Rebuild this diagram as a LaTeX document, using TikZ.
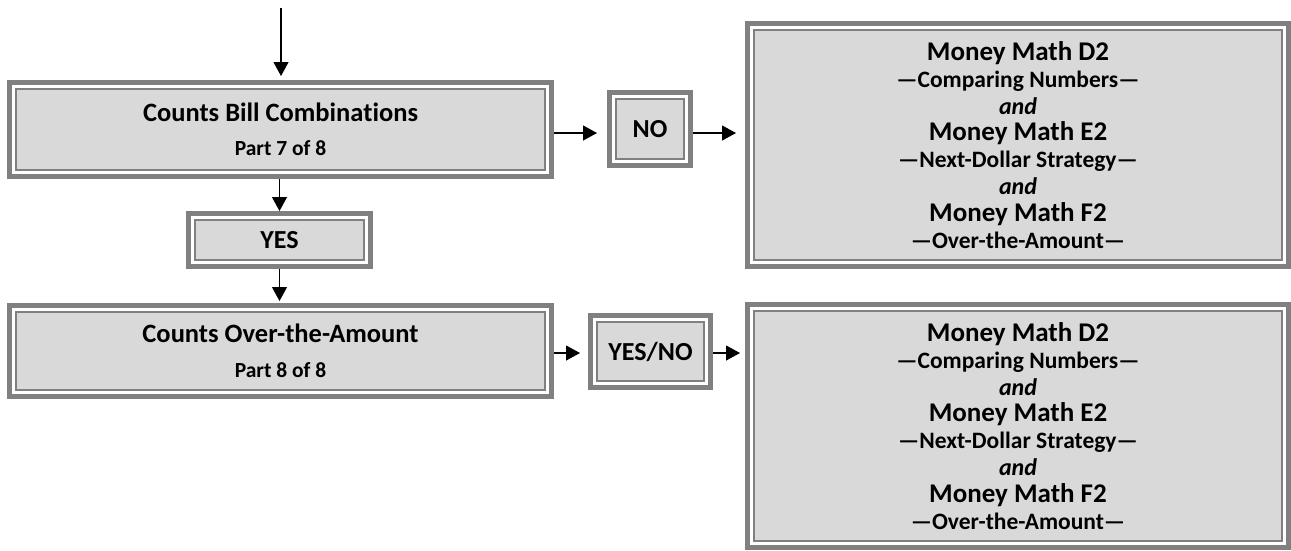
\documentclass[tikz,border=0pt]{standalone}
\usepackage{fontspec}
\setmainfont{Carlito}[Ligatures={TeX,NoCommon}]
\usepackage{xcolor}
\usepackage{tikz}
\usetikzlibrary{arrows.meta}
\definecolor{edgegray}{RGB}{128,128,128}
\definecolor{boxgray}{RGB}{217,217,217}
\newcommand{\bigline}[1]{{\fontsize{27}{26.9}\selectfont #1}}
\newcommand{\subline}[1]{{\fontsize{23.5}{26.9}\selectfont #1}}
\newcommand{\andline}{{\fontsize{24}{26.9}\selectfont\textit{and}}}
\tikzset{
  flowbox/.style={draw=edgegray, line width=5.4pt, fill=boxgray, inner sep=0pt, align=center,
    path picture={
      \draw[white, line width=2.6pt] ([shift={(4pt,-4pt)}]path picture bounding box.north west) rectangle ([shift={(-4pt,4pt)}]path picture bounding box.south east);
      \draw[edgegray, line width=1.8pt] ([shift={(6.2pt,-6.2pt)}]path picture bounding box.north west) rectangle ([shift={(-6.2pt,6.2pt)}]path picture bounding box.south east);
    }},
  twoline/.style={font=\bfseries\fontsize{26.5}{34.5}\selectfont},
  oneline/.style={font=\bfseries\fontsize{26}{27}\selectfont},
  manyline/.style={font=\bfseries\fontsize{27}{26.9}\selectfont},
  flowarrow/.style={line width=1.2pt, -{Triangle[width=15pt,length=14pt]}},
}

\begin{document}
\begin{tikzpicture}[x=1pt, y=-1pt]
\useasboundingbox (0,0) rectangle (1291,550);
\node[flowbox, twoline, minimum width=541.6pt, minimum height=93.6pt] (bills) at (280.5,129.5)
  {Counts Bill Combinations\\{\fontsize{21.5}{34.5}\selectfont Part 7 of 8}};
\node[flowbox, oneline, minimum width=181.6pt, minimum height=52.6pt] (yes) at (279.5,240) {YES};
\node[flowbox, twoline, minimum width=541.6pt, minimum height=90.6pt] (over) at (280.5,351)
  {Counts Over-the-Amount\\{\fontsize{21.5}{34.5}\selectfont Part 8 of 8}};
\node[flowbox, oneline, minimum width=80.6pt, minimum height=72.6pt] (no) at (650,129) {NO};
\node[flowbox, oneline, minimum width=119.6pt, minimum height=71.6pt] (yesno) at (650.5,351.5) {YES/NO};
\node[flowbox, manyline, minimum width=540.6pt, minimum height=242.6pt] (skillsA) at (1018,145)
  {\bigline{Money Math D2}\\\subline{—Comparing Numbers—}\\\andline\\\bigline{Money Math E2}\\\subline{—Next-Dollar Strategy—}\\\andline\\\bigline{Money Math F2}\\\subline{—Over-the-Amount—}};
\node[flowbox, manyline, minimum width=540.6pt, minimum height=242.6pt] (skillsB) at (1018,426)
  {\bigline{Money Math D2}\\\subline{—Comparing Numbers—}\\\andline\\\bigline{Money Math E2}\\\subline{—Next-Dollar Strategy—}\\\andline\\\bigline{Money Math F2}\\\subline{—Over-the-Amount—}};
\coordinate (entry) at (281,8);
\coordinate (rowA) at (0,133);
\coordinate (rowB) at (0,353);
\draw[flowarrow, shorten >=4pt] (entry) -- (entry |- bills.north);
\draw[flowarrow] (bills.south -| yes.north) -- (yes.north);
\draw[flowarrow, shorten >=2pt] (yes.south) -- (yes.south |- over.north);
\draw[flowarrow, shorten >=10pt] (bills.east |- rowA) -- (no.west |- rowA);
\draw[flowarrow, shorten >=9pt] (no.east |- rowA) -- (skillsA.west |- rowA);
\draw[flowarrow, shorten >=8pt] (over.east |- rowB) -- (yesno.west |- rowB);
\draw[flowarrow, shorten >=5pt] (yesno.east |- rowB) -- (skillsB.west |- rowB);
\end{tikzpicture}
\end{document}
